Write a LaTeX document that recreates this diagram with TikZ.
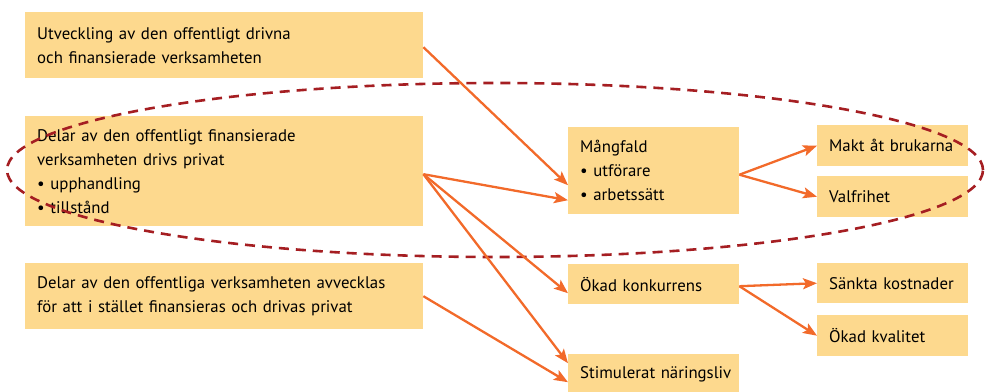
\documentclass[tikz,border=0pt]{standalone}
\usepackage{fontspec}
\setmainfont{PT Sans}
\usetikzlibrary{arrows.meta}
\definecolor{boxfill}{HTML}{FDD98E}
\definecolor{arr}{HTML}{F26A2A}
\definecolor{ell}{HTML}{A51E22}
\tikzset{
  box/.style={fill=boxfill, anchor=north west, inner xsep=12pt, inner ysep=0pt,
    align=left, font=\fontsize{16.8}{24}\selectfont},
  arrowline/.style={draw=arr, line width=2.3pt, -{Stealth[length=14pt,width=11pt,inset=3pt]}},
  ellline/.style={draw=ell, line width=2.6pt, dash pattern=on 10pt off 7pt}
}
\begin{document}
\begin{tikzpicture}[x=1pt,y=1pt]
\useasboundingbox (0,0) rectangle (985,-391);
\node[box, minimum width=398pt, minimum height=66pt, text width=374pt] (A) at (25,-12)
  {Utveckling av den offentligt drivna\\och finansierade verksamheten};
\node[box, minimum width=398pt, minimum height=110pt, text width=374pt] (B) at (25,-116)
  {Delar av den offentligt finansierade\\verksamheten drivs privat\\\textbullet\ upphandling\\\textbullet\ tillstånd};
\node[box, minimum width=398pt, minimum height=66pt, text width=374pt] (C) at (25,-263)
  {Delar av den offentliga verksamheten avvecklas\\för att i stället finansieras och drivas privat};
\node[box, minimum width=171pt, minimum height=87pt, text width=147pt] (M) at (568,-127)
  {Mångfald\\\textbullet\ utförare\\\textbullet\ arbetssätt};
\node[box, minimum width=151pt, minimum height=41pt, text width=127pt] (Mk) at (817,-125)
  {\mbox{Makt åt brukarna}};
\node[box, minimum width=151pt, minimum height=41pt, text width=127pt] (V) at (817,-176)
  {Valfrihet};
\node[box, minimum width=171pt, minimum height=40pt, text width=147pt] (K) at (568,-264)
  {Ökad konkurrens};
\node[box, minimum width=151pt, minimum height=40pt, text width=127pt] (S) at (817,-263)
  {\mbox{Sänkta kostnader}};
\node[box, minimum width=151pt, minimum height=41pt, text width=127pt] (Q) at (817,-315)
  {Ökad kvalitet};
\node[box, minimum width=171pt, minimum height=41pt, text width=147pt] (N) at (568,-354)
  {\mbox{Stimulerat näringsliv}};
\coordinate (E) at (495,-170);
\draw[ellline] (E) ellipse [x radius=488, y radius=87];
\draw[arrowline] ([yshift=-2pt]A.east) -- ([yshift=-14.5pt]M.west);
\draw[arrowline] ([yshift=-3pt]B.east) -- ([yshift=-29.5pt]M.west);
\draw[arrowline] ([yshift=-3pt]B.east) -- ([yshift=-9pt]K.west);
\draw[arrowline] ([yshift=-3pt]B.east) -- ([yshift=11.5pt]N.west);
\draw[arrowline] (C.east) -- ([yshift=-7.5pt]N.west);
\draw[arrowline] ([yshift=-4pt]M.east) -- (Mk.west);
\draw[arrowline] ([yshift=-4pt]M.east) -- (V.west);
\draw[arrowline] ([yshift=-2pt]K.east) -- (S.west);
\draw[arrowline] ([yshift=-2pt]K.east) -- (Q.west);
\end{tikzpicture}
\end{document}
